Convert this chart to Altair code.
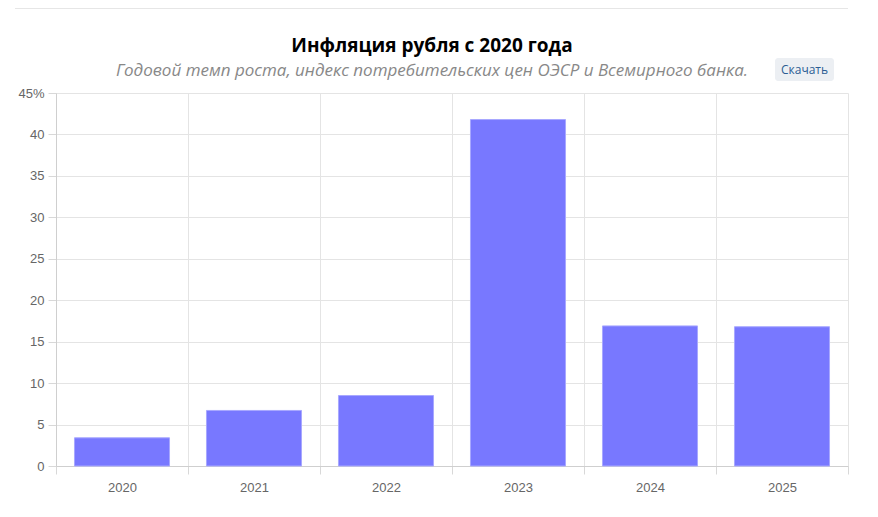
import altair as alt
import pandas as pd

years = ["2020", "2021", "2022", "2023", "2024", "2025"]
inflation = [3.4, 6.7, 8.5, 41.8, 16.9, 16.8]
y_ticks = [0, 5, 10, 15, 20, 25, 30, 35, 40, 45]

title_text = "Инфляция рубля с 2020 года"
subtitle_text = "Годовой темп роста, индекс потребительских цен ОЭСР и Всемирного банка."
button_text = "Скачать"

df = pd.DataFrame({"year": years, "value": inflation})

W, H = 792, 373

bars = alt.Chart(df).mark_bar(
    color="#7878ff", stroke="#a8a8ff", strokeWidth=1,
    width=alt.RelativeBandSize(0.72)
).encode(
    x=alt.X("year:N", sort=years, title=None,
            scale=alt.Scale(paddingInner=0, paddingOuter=0),
            axis=alt.Axis(labelAngle=0, tickBand="extent", grid=True,
                          gridColor="#e4e4e4", domainColor="#cfcfcf",
                          tickColor="#d8d8d8", tickSize=8, labelPadding=7,
                          labelColor="#666666", labelFontSize=13,
                          labelFont="Liberation Sans")),
    y=alt.Y("value:Q", title=None,
            scale=alt.Scale(domain=[0, 45], nice=False),
            axis=alt.Axis(values=y_ticks, grid=True, gridColor="#e4e4e4",
                          domainColor="#cfcfcf", tickColor="#d8d8d8",
                          tickSize=8, labelPadding=4, labelColor="#666666",
                          labelFontSize=13, labelFont="Liberation Sans",
                          labelExpr="datum.value == 45 ? '45%' : datum.label")),
)

one = alt.Data(values=[{"t": button_text, "title": title_text, "sub": subtitle_text}])

title_mark = alt.Chart(one).mark_text(
    font="Open Sans", fontSize=19, fontWeight="bold", color="#000000",
    align="center", baseline="alphabetic"
).encode(x=alt.value(376), y=alt.value(-41), text="title:N")

subtitle_mark = alt.Chart(one).mark_text(
    font="Open Sans", fontSize=17, fontStyle="italic", color="#888888",
    align="center", baseline="alphabetic"
).encode(x=alt.value(376), y=alt.value(-17), text="sub:N")

button_bg = alt.Chart(one).mark_rect(
    fill="#eceff3", cornerRadius=3
).encode(
    x=alt.value(719), x2=alt.value(778), y=alt.value(-35), y2=alt.value(-12)
)

button_txt = alt.Chart(one).mark_text(
    font="Open Sans", fontSize=12, color="#2b5d93", align="center", baseline="middle"
).encode(
    x=alt.value(748.5), y=alt.value(-23.5), text="t:N"
)

top_line = alt.Chart(one).mark_rule(color="#e6e6e6", strokeWidth=1).encode(
    x=alt.value(-41), x2=alt.value(792), y=alt.value(-84.5)
)

chart = alt.layer(bars, title_mark, subtitle_mark, button_bg, button_txt, top_line).properties(
    width=W, height=H,
    autosize=alt.AutoSizeParams(type="none"),
    padding={"left": 48, "top": 85, "right": 22, "bottom": 43},
).configure_view(stroke=None)

chart.save("out.html", embed_options={"renderer": "svg", "actions": False})
